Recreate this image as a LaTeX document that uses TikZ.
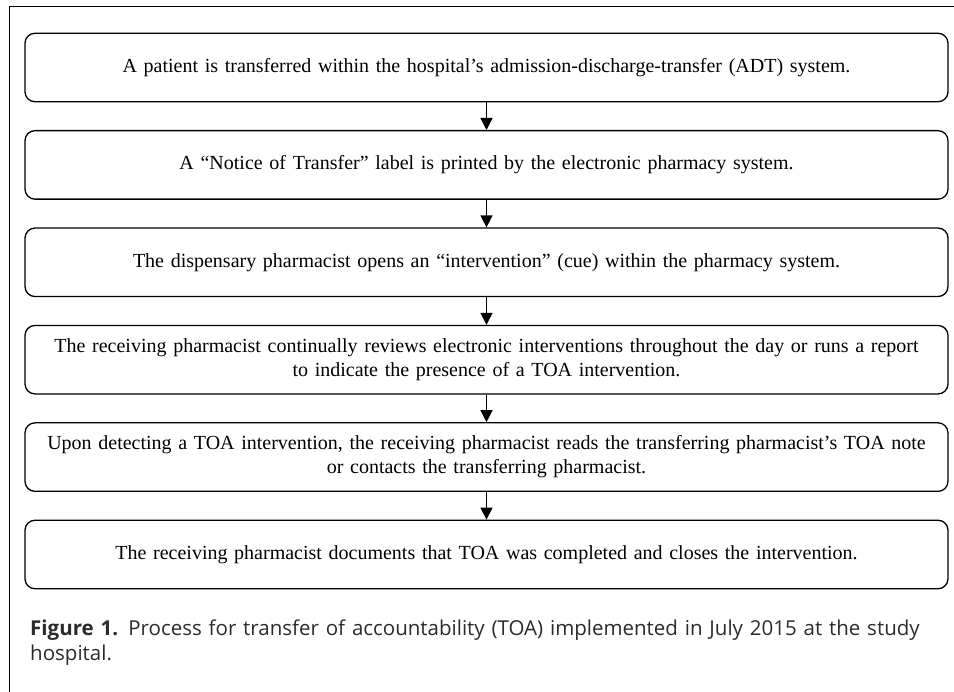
\documentclass[tikz,border=0pt]{standalone}
\usepackage{fontspec}
\setmainfont{Liberation Serif}
\setsansfont{Open Sans}
\usetikzlibrary{arrows.meta, positioning}
\definecolor{captext}{HTML}{2B2B2B}
\tikzstyle{stepbox} = [rectangle, rounded corners=10pt, draw=black, line width=1.3pt, text width=903pt, inner xsep=10pt, minimum height=68.5pt, align=center, font=\fontsize{20}{24}\selectfont]
\tikzstyle{line} = [draw, line width=1.3pt, -{Triangle[length=12pt,width=12pt]}]
\tikzstyle{caption} = [anchor=north west, inner sep=0pt, text width=905pt, align=left, text=captext, font=\sffamily\fontsize{20.5}{25}\selectfont]

\begin{document}
\begin{tikzpicture}[node distance = 27.6pt, auto]
	\useasboundingbox (0pt,0pt) rectangle (954pt,-692pt);
	\draw [line width=1pt] (954pt,-7pt) -- (9pt,-7pt) -- (9pt,-692pt);

	% Steps
	\node (s1) [stepbox] at (486.5pt,-67.5pt) {A patient is transferred within the hospital's admission-discharge-transfer (ADT) system.};
	\node (s2) [stepbox, below=of s1] {A ``Notice of Transfer'' label is printed by the electronic pharmacy system.};
	\node (s3) [stepbox, below=of s2] {The dispensary pharmacist opens an ``intervention'' (cue) within the pharmacy system.};
	\node (s4) [stepbox, below=of s3] {The receiving pharmacist continually reviews electronic interventions throughout the day or runs a report\\ to indicate the presence of a TOA intervention.};
	\node (s5) [stepbox, below=of s4] {Upon detecting a TOA intervention, the receiving pharmacist reads the transferring pharmacist's TOA note\\ or contacts the transferring pharmacist.};
	\node (s6) [stepbox, below=of s5] {The receiving pharmacist documents that TOA was completed and closes the intervention.};

	\node (cap) [caption] at (30pt,-620pt) {\textbf{Figure 1.} Process for transfer of accountability (TOA) implemented in July 2015 at the study hospital.};

	% Draw edges
	\path [line] (s1) -- (s2);
	\path [line] (s2) -- (s3);
	\path [line] (s3) -- (s4);
	\path [line] (s4) -- (s5);
	\path [line] (s5) -- (s6);
\end{tikzpicture}
\end{document}
